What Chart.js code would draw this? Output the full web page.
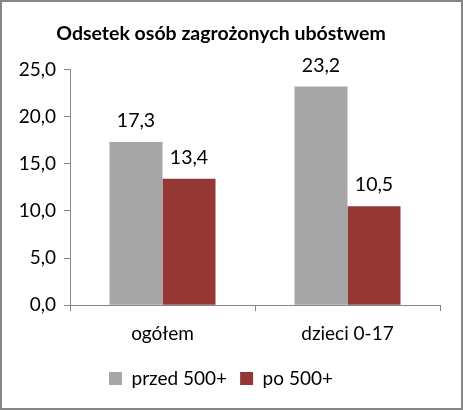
<!DOCTYPE html>
<html>
<head>
<meta charset="utf-8">
<script src="https://cdn.jsdelivr.net/npm/chart.js@4/dist/chart.umd.min.js"></script>
<style>
	html, body { margin: 0; padding: 0; background: #ffffff; }
	#ramka { width: 463px; height: 410px; box-sizing: border-box; border: 2px solid #868686; background: #ffffff; }
	#wykres { display: block; }
</style>
</head>
<body>
<div id="ramka"><canvas id="wykres" width="459" height="406"></canvas></div>
<script>
var kategorie = ["ogółem", "dzieci 0-17"];
var przed_500 = [17.3, 23.2];
var po_500 = [13.4, 10.5];
var podzialka_y = [0, 5, 10, 15, 20, 25];

var czcionka = "Lato, 'Open Sans', sans-serif";

function formatPL(v)
{
	return Number(v).toFixed(1).replace(".", ",");
}

// etykiety wartosci nad slupkami
var etykietyWartosci = {
	id: "etykietyWartosci",
	afterDatasetsDraw: function (chart)
	{
		var ctx = chart.ctx;
		ctx.save();
		ctx.font = "19.5px " + czcionka;
		ctx.fillStyle = "#000000";
		ctx.textAlign = "center";
		ctx.textBaseline = "middle";
		chart.data.datasets.forEach(function (ds, i)
		{
			var meta = chart.getDatasetMeta(i);
			meta.data.forEach(function (el, j)
			{
				ctx.fillText(formatPL(ds.data[j]), el.x, el.y - 21);
			});
		});
		ctx.restore();
	}
};

var contexto = document.getElementById("wykres").getContext("2d");

new Chart(contexto, {
	type: "bar",
	data: {
		labels: kategorie,
		datasets: [{
			label: "przed 500+",
			data: przed_500,
			backgroundColor: "#a6a6a6"
		}, {
			label: "po 500+",
			data: po_500,
			backgroundColor: "#953735"
		}]
	},
	options: {
		responsive: false,
		animation: false,
		devicePixelRatio: 1,
		categoryPercentage: 0.573,
		barPercentage: 1.0,
		layout: {
			padding: { left: 0, right: 21, top: 0, bottom: 10 }
		},
		plugins: {
			title: {
				display: true,
				text: "Odsetek osób zagrożonych ubóstwem",
				color: "#000000",
				font: { family: czcionka, size: 19.5, weight: "bold" },
				padding: { top: 20, bottom: 24 }
			},
			legend: {
				display: true,
				position: "bottom",
				labels: {
					color: "#000000",
					font: { family: czcionka, size: 19 },
					boxWidth: 13,
					boxHeight: 13,
					padding: 13
				}
			},
			tooltip: { enabled: false }
		},
		scales: {
			x: {
				grid: {
					display: true,
					drawOnChartArea: false,
					drawTicks: true,
					tickLength: 6,
					color: "#868686",
					offset: true
				},
				border: { color: "#868686" },
				ticks: {
					color: "#000000",
					font: { family: czcionka, size: 19 },
					padding: 11
				}
			},
			y: {
				min: 0,
				max: 25,
				afterFit: function (scale) { scale.width = 68; },
				afterBuildTicks: function (scale)
				{
					scale.ticks = podzialka_y.map(function (v) { return { value: v }; });
				},
				grid: {
					display: true,
					drawOnChartArea: false,
					drawTicks: true,
					tickLength: 6,
					color: "#868686"
				},
				border: { color: "#868686" },
				ticks: {
					color: "#000000",
					font: { family: czcionka, size: 19 },
					padding: 8,
					callback: function (v) { return formatPL(v); }
				}
			}
		}
	},
	plugins: [etykietyWartosci]
});
</script>
</body>
</html>
